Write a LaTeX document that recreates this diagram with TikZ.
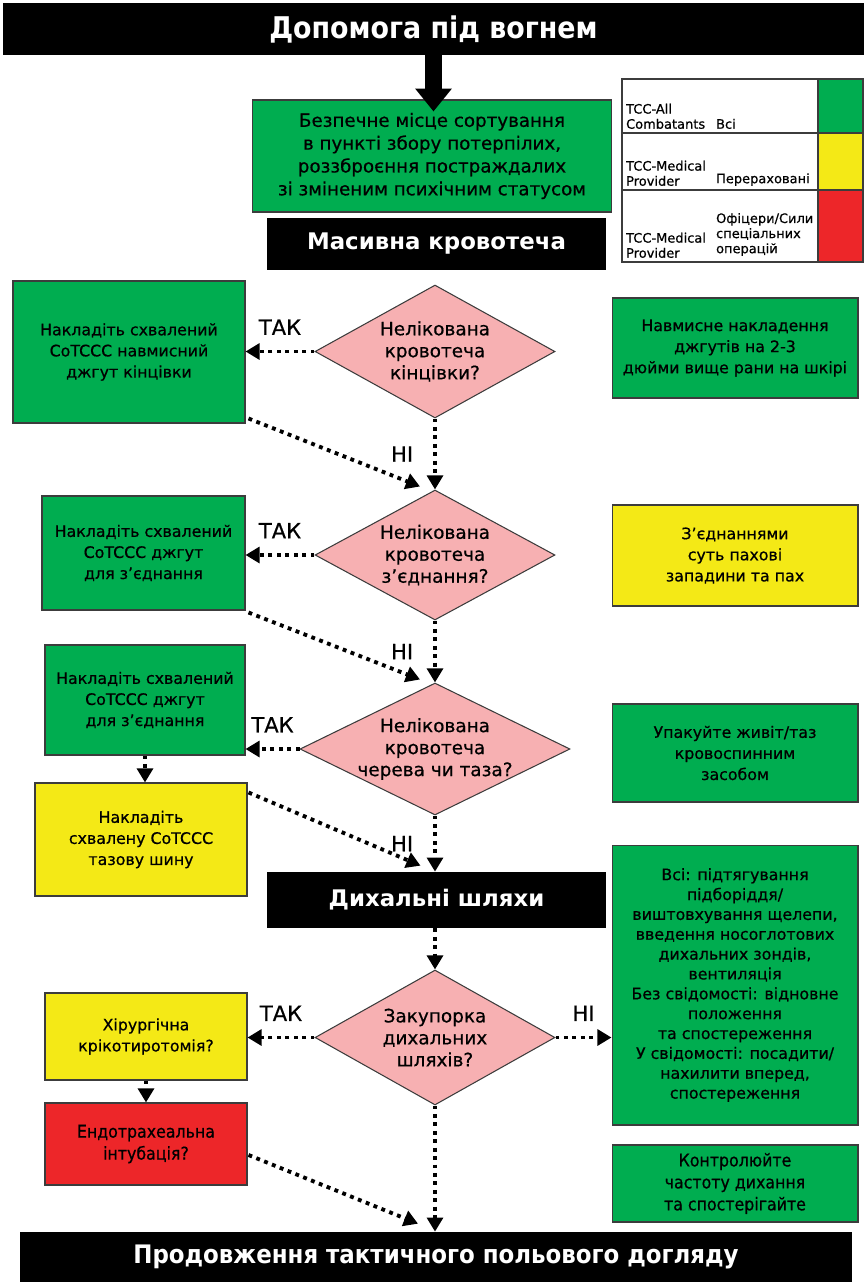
\documentclass[tikz,border=0pt]{standalone}
\usepackage{fontspec}
\setmainfont{DejaVu Sans}
\newfontfamily\medfont{DejaVu Sans}[FakeBold=0.6]
\newfontfamily\narrowfont{DejaVu Sans Condensed}
\newfontfamily\narrowmed{DejaVu Sans Condensed}[FakeBold=0.6]
\usetikzlibrary{shapes.geometric,arrows.meta}

\definecolor{cgreen}{RGB}{0,173,80}
\definecolor{cyellow}{RGB}{244,233,22}
\definecolor{cred}{RGB}{237,38,41}
\definecolor{cpink}{RGB}{247,176,178}
\definecolor{cline}{RGB}{60,60,60}

\tikzset{
  box/.style={draw=cline, line width=0.6pt, align=center, inner sep=2pt, font=\medfont\fontsize{9}{12}\selectfont},
  grnbox/.style={box, fill=cgreen},
  ylwbox/.style={box, fill=cyellow},
  redbox/.style={box, fill=cred},
  bar/.style={fill=black, text=white, align=center, inner sep=0pt, font=\bfseries\fontsize{13}{15}\selectfont},
  ques/.style={diamond, draw=cline, line width=0.6pt, fill=cpink, inner sep=0pt, align=center, font=\medfont\fontsize{10.5}{12.5}\selectfont},
  flow/.style={line width=2.2pt, dash pattern=on 2.2pt off 2.6pt, -{Triangle[length=8pt,width=9pt]}},
  lbl/.style={font=\medfont\fontsize{12}{14}\selectfont},
  legtxt/.style={anchor=south west, align=left, inner sep=1pt, font=\medfont\fontsize{7.4}{8.6}\selectfont},
}

\begin{document}
\begin{tikzpicture}[x=0.02cm,y=-0.02cm]
\useasboundingbox (0,0) rectangle (864,1282);

% headers
\node[bar, minimum width=17.22cm, minimum height=1.04cm, font=\narrowfont\bfseries\fontsize{17}{19}\selectfont] (top) at (433.5,29) {Допомога під вогнем};
\node[grnbox, minimum width=7.2cm, minimum height=2.24cm, font=\medfont\fontsize{10.4}{13}\selectfont] (safe) at (432,156) {Безпечне місце сортування\\в пункті збору потерпілих,\\роззброєння постраждалих\\зі зміненим психічним статусом};
\node[bar, minimum width=6.78cm, minimum height=1.04cm] (mass) at (436.5,244) {Масивна кровотеча};
\draw[line width=10pt, -{Triangle[length=13pt,width=20pt]}, shorten >=-0.24cm] (top.south) -- (top.south |- safe.north);

% legend
\fill[cgreen] (818,79) rectangle (863,133);
\fill[cyellow] (818,133) rectangle (863,190);
\fill[cred] (818,190) rectangle (863,262);
\draw[cline, line width=0.8pt] (622,79) rectangle (863,262);
\draw[cline, line width=0.8pt] (622,133) -- (863,133) (622,190) -- (863,190) (818,79) -- (818,262);
\node[legtxt] (lg1a) at (624,131) {TCC-All\\Combatants};
\node[legtxt] (lg1b) at (714,131) {Всі};
\node[legtxt] (lg2a) at (624,188) {TCC-Medical\\Provider};
\node[legtxt] (lg2b) at (714,188) {Перераховані};
\node[legtxt] (lg3a) at (624,260) {TCC-Medical\\Provider};
\node[legtxt] (lg3b) at (714,258) {Офіцери/Сили\\спеціальних\\операцій};

% limb
\node[ques, aspect=1.8, minimum width=4.8cm, minimum height=2.66cm] (d1) at (435,351.5) {Нелікована\\кровотеча\\кінцівки?};
\node[grnbox, minimum width=4.64cm, minimum height=2.84cm] (lb1) at (129,352) {Накладіть схвалений\\CoTCCC навмисний\\джгут кінцівки};
\node[grnbox, minimum width=4.92cm, minimum height=2cm] (rb1) at (735,348) {Навмисне накладення\\джгутів на 2-3\\дюйми вище рани на шкірі};

% junction
\node[ques, aspect=1.85, minimum width=4.8cm, minimum height=2.6cm] (d2) at (435,555) {Нелікована\\кровотеча\\з’єднання?};
\node[grnbox, minimum width=4.06cm, minimum height=2.28cm] (lb2) at (143.5,553) {Накладіть схвалений\\CoTCCC джгут\\для з’єднання};
\node[ylwbox, minimum width=4.92cm, minimum height=2.02cm] (rb2) at (735,555.5) {З’єднаннями\\суть пахові\\западини та пах};

% abdomen
\node[ques, aspect=2.05, inner sep=-3pt, minimum width=5.4cm, minimum height=2.64cm] (d3) at (435,749) {Нелікована\\кровотеча\\черева чи таза?};
\node[grnbox, minimum width=4cm, minimum height=2.2cm] (lb3) at (145,700) {Накладіть схвалений\\CoTCCC джгут\\для з’єднання};
\node[ylwbox, minimum width=4.24cm, minimum height=2.26cm] (yb3) at (141,839.5) {Накладіть\\схвалену CoTCCC\\тазову шину};
\node[grnbox, minimum width=4.92cm, minimum height=1.96cm] (rb3) at (735,753) {Упакуйте живіт/таз\\кровоспинним\\засобом};

% airway
\node[bar, minimum width=6.78cm, minimum height=1.12cm] (airway) at (436.5,900) {Дихальні шляхи};
\node[ques, aspect=1.78, minimum width=4.8cm, minimum height=2.7cm] (d4) at (435,1037.5) {Закупорка\\дихальних\\шляхів?};
\node[ylwbox, minimum width=4.04cm, minimum height=1.74cm] (yb4) at (146,1036.5) {Хірургічна\\крікотиротомія?};
\node[redbox, minimum width=4.04cm, minimum height=1.64cm, font=\narrowmed\fontsize{10}{12.5}\selectfont] (red) at (146,1144) {Ендотрахеальна\\інтубація?};
\node[grnbox, minimum width=4.92cm, minimum height=5.6cm, font=\medfont\fontsize{9}{11.3}\selectfont] (rb4) at (735,985) {Всі: підтягування\\підборіддя/\\виштовхування щелепи,\\введення носоглотових\\дихальних зондів,\\вентиляція\\Без свідомості: відновне\\положення\\та спостереження\\У свідомості: посадити/\\нахилити вперед,\\спостереження};
\node[grnbox, minimum width=4.92cm, minimum height=1.54cm, font=\narrowmed\fontsize{10}{12.5}\selectfont] (rb5) at (735,1183.5) {Контролюйте\\частоту дихання\\та спостерігайте};
\node[bar, minimum width=16.64cm, minimum height=1cm, font=\narrowfont\bfseries\fontsize{14.5}{17}\selectfont] (bottom) at (436,1257) {Продовження тактичного польового догляду};

% connectors
\draw[flow] (d1.west) -- (d1.west -| lb1.east) node[lbl, midway, above=5pt] (tak1) {ТАК};
\draw[flow] (d1.south) -- (d2.north) node[lbl, midway, left=8pt] (ni1) {НІ};
\draw[flow] ([shift={(3,-5)}]lb1.south east) -- ([shift={(-15,-3)}]d2.north);

\draw[flow] (d2.west) -- (d2.west -| lb2.east) node[lbl, midway, above=5pt] (tak2) {ТАК};
\draw[flow] (d2.south) -- (d3.north) node[lbl, midway, left=8pt] (ni2) {НІ};
\draw[flow] ([shift={(3,2)}]lb2.south east) -- ([shift={(-15,-3)}]d3.north);

\draw[flow] (d3.west) -- (d3.west -| lb3.east) node[lbl, midway, above=5pt] (tak3) {ТАК};
\draw[flow] (lb3.south) -- (lb3.south |- yb3.north);
\draw[flow] (d3.south) -- (d3.south |- airway.north) node[lbl, midway, left=8pt] (ni3) {НІ};
\draw[flow] ([shift={(1,10)}]yb3.north east) -- ([shift={(-16,-6)}]airway.north);

\draw[flow] (airway.south -| d4.north) -- (d4.north);
\draw[flow] (d4.west) -- (d4.west -| yb4.east) node[lbl, midway, above=5pt] (tak4) {ТАК};
\draw[flow] (d4.east) -- (d4.east -| rb4.west) node[lbl, midway, above=5pt] (ni4) {НІ};
\draw[flow] (yb4.south) -- (red.north);
\draw[flow] ([shift={(1,11)}]red.east) -- ([shift={(-18,-8)}]bottom.north);
\draw[flow] (d4.south) -- (d4.south |- bottom.north);
\end{tikzpicture}
\end{document}
